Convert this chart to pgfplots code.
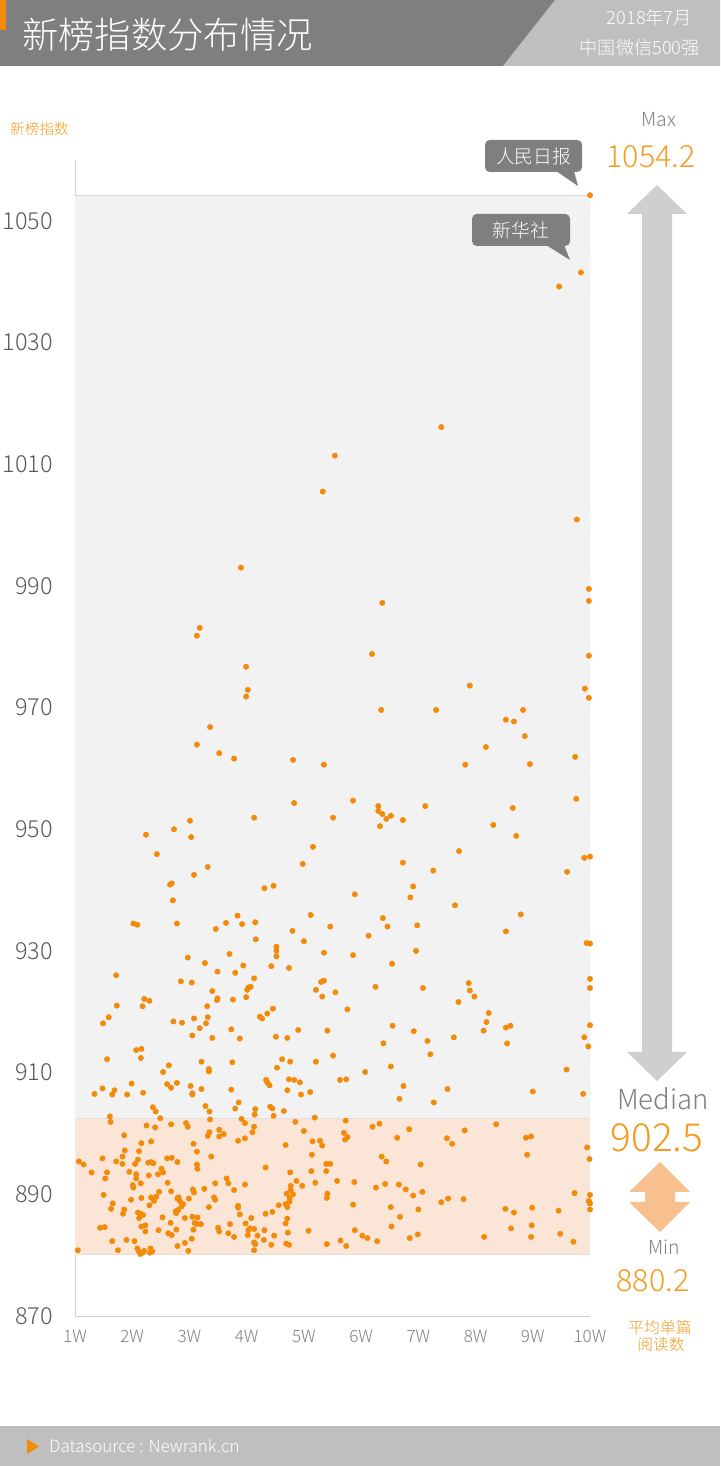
\documentclass[border=0pt]{standalone}
\usepackage{pgfplots}
\usepackage{pgfplotstable}
\pgfplotsset{compat=1.18}
\usepackage{fontspec}
\setmainfont{Noto Sans CJK SC}[UprightFont={* Light}, BoldFont={*}]

\definecolor{hdr}{HTML}{7F7F7F}
\definecolor{hdrlight}{HTML}{BFBFBF}
\definecolor{txtorange}{HTML}{F39C1F}
\definecolor{ptorange}{HTML}{F28A0A}
\definecolor{bandgray}{HTML}{F2F2F2}
\definecolor{bandorange}{HTML}{FBE5D6}
\definecolor{axgray}{HTML}{D0D0D0}
\definecolor{lblgray}{HTML}{7F7F7F}
\definecolor{tickgray}{HTML}{595959}
\definecolor{arrowgray}{HTML}{D0CECE}
\definecolor{arroworange}{HTML}{F8C08F}

\newcommand{\fs}[1]{\fontsize{#1}{#1}\selectfont}

% x = average reads per article (W = 10k), y = Newrank index
\pgfplotstableread{
x y
10.00 1054.2
9.84 1041.5
9.46 1039.2
7.40 1016.1
5.54 1011.4
5.33 1005.5
9.77 1000.9
3.90 993.0
9.98 989.5
9.98 987.5
6.37 987.2
3.18 983.1
3.13 981.8
6.19 978.8
9.98 978.5
3.99 976.7
4.02 972.9
3.99 971.8
7.90 973.6
9.91 973.1
9.98 971.6
3.36 966.8
7.31 969.6
6.35 969.6
8.83 969.6
8.53 968.0
8.67 967.7
8.86 965.3
3.13 963.9
8.18 963.5
3.52 962.5
3.78 961.6
4.81 961.4
8.95 960.7
9.74 961.9
7.82 960.6
5.35 960.6
5.86 954.7
4.83 954.3
9.76 955.0
6.30 953.8
6.30 953.0
6.37 952.5
7.12 953.8
8.65 953.5
6.33 950.5
6.44 951.7
6.52 952.2
6.73 951.5
4.13 951.9
5.51 951.9
3.01 951.4
2.73 950.0
8.31 950.7
8.71 948.9
2.24 949.1
3.03 948.7
5.16 947.1
7.71 946.4
2.43 945.9
10.00 945.5
9.90 945.3
4.98 944.3
3.32 943.8
9.60 943.0
7.26 943.2
6.73 944.5
3.08 942.5
2.69 941.1
2.66 940.9
2.71 938.3
2.02 934.5
2.09 934.3
2.78 934.5
3.46 933.6
3.64 934.6
3.84 935.8
3.92 934.4
2.97 928.9
3.27 928.0
3.70 929.5
3.49 926.6
3.80 926.4
3.94 927.6
1.72 926.0
2.85 925.0
3.04 924.8
3.40 923.4
3.49 922.2
3.48 921.9
3.76 922.0
4.01 923.6
4.03 924.0
3.99 922.4
2.21 922.1
2.30 921.8
2.18 920.9
1.73 921.0
3.31 920.9
1.59 919.1
1.49 918.1
2.72 918.4
2.87 918.2
3.08 918.9
3.32 919.1
3.29 918.1
3.18 917.3
3.05 916.1
3.40 915.7
3.73 917.1
3.88 915.6
2.07 913.7
2.16 913.9
2.15 912.4
1.56 912.2
2.64 911.2
3.21 911.8
3.75 911.7
3.34 910.6
4.31 940.3
4.47 940.7
5.89 939.3
6.91 940.6
6.86 938.8
5.12 935.9
4.15 934.7
4.80 933.3
5.46 934.0
6.38 935.4
6.46 934.0
6.98 934.2
4.16 931.9
5.00 931.6
6.13 932.5
4.52 930.7
4.52 930.0
4.52 929.1
5.35 929.7
5.86 929.3
6.96 930.0
4.43 927.5
4.74 927.2
6.54 927.9
4.13 925.5
4.07 924.1
5.30 924.9
5.35 925.1
5.21 923.6
5.55 923.2
5.32 922.5
6.25 924.1
7.08 923.9
4.46 920.5
4.36 919.7
4.23 919.2
4.27 918.9
5.76 920.4
6.55 917.7
6.92 916.8
4.90 917.0
5.41 916.9
4.51 915.9
4.71 915.7
6.39 914.8
5.51 912.8
4.62 912.2
4.76 911.8
5.21 911.8
4.53 910.8
6.52 911.0
7.64 937.5
8.79 936.0
8.53 933.2
9.94 931.3
10.00 931.2
7.88 924.7
7.90 923.5
7.98 922.5
7.70 921.6
10.00 925.4
10.00 923.9
8.23 919.8
8.19 918.3
8.14 916.9
8.53 917.4
8.61 917.7
8.55 914.8
7.62 915.8
7.16 915.2
7.21 913.0
10.00 917.8
9.90 915.8
9.97 914.3
9.59 910.5
2.54 910.1
3.34 910.2
1.34 906.5
1.48 907.4
1.65 906.4
1.69 907.1
1.91 906.4
1.99 908.2
2.19 906.7
2.61 908.1
2.68 907.5
2.78 908.3
3.02 907.8
3.05 906.6
3.05 906.4
3.21 907.3
3.73 907.2
3.86 905.1
3.80 904.1
3.28 904.5
3.35 903.6
2.36 904.3
2.41 903.6
1.61 902.8
1.62 901.9
2.49 902.5
3.36 902.3
3.91 902.4
2.25 901.3
2.40 901.0
2.68 901.5
2.94 901.7
2.97 901.1
3.97 901.7
3.35 900.2
3.32 899.6
3.52 900.6
3.60 899.9
3.52 899.5
3.85 898.8
3.97 899.2
1.86 899.7
2.16 898.4
2.33 898.7
3.07 898.3
3.13 897.0
3.38 896.2
1.87 897.2
2.12 897.1
1.07 895.4
1.15 894.9
1.48 895.9
1.72 895.4
1.83 896.2
2.10 895.7
2.05 895.0
1.83 895.0
2.28 895.2
2.33 895.3
2.37 895.1
2.61 895.9
2.69 896.0
2.79 895.3
3.13 894.9
3.14 894.2
1.29 893.6
1.56 893.6
1.53 892.6
1.95 893.7
2.07 893.3
2.07 892.6
2.29 893.1
2.45 893.3
2.51 894.2
2.54 893.6
2.15 891.8
2.01 891.5
2.02 891.1
2.62 891.9
3.45 891.8
3.65 892.6
3.68 891.8
3.97 891.6
3.78 890.7
1.50 889.9
1.98 889.1
2.16 889.4
2.33 889.5
2.42 889.6
2.38 888.9
2.47 890.4
2.68 890.5
2.81 889.5
2.83 888.9
2.79 889.3
2.99 889.3
3.06 890.8
3.08 890.3
3.26 890.9
3.43 889.5
3.45 889.1
2.30 888.2
1.66 888.5
1.63 887.6
1.86 887.5
1.84 886.8
2.10 887.0
2.15 886.8
2.19 886.6
2.12 886.1
2.53 886.2
2.76 887.2
2.80 887.4
2.86 888.0
2.89 888.4
2.77 886.9
2.92 886.1
3.05 886.3
3.14 886.2
3.34 887.9
3.85 888.1
3.85 887.8
3.88 886.7
3.09 885.3
3.13 885.1
3.20 885.1
2.67 885.3
1.44 884.5
1.52 884.6
2.16 884.7
2.23 884.9
2.23 883.9
2.46 884.1
2.63 883.6
2.69 883.3
2.77 884.2
3.07 884.2
3.50 884.5
3.52 883.9
3.71 885.1
3.68 883.6
3.78 883.0
3.98 885.2
4.03 884.1
4.02 883.3
3.04 882.7
1.65 882.3
1.90 882.5
2.04 882.3
2.92 882.0
2.79 881.5
1.05 880.8
1.75 880.8
2.09 881.1
2.12 880.6
2.18 880.4
2.21 880.7
2.14 880.2
2.32 881.1
2.35 880.6
2.31 880.4
2.98 880.7
4.34 908.8
4.36 908.4
4.40 907.9
4.74 908.9
4.83 908.8
4.93 908.4
4.71 907.1
4.95 906.4
5.11 906.8
5.63 908.8
5.74 908.9
6.07 910.1
6.74 907.8
6.67 905.7
4.15 904.0
4.14 903.1
4.41 904.4
4.45 904.1
4.47 902.9
4.65 903.7
5.19 902.6
5.73 902.1
4.85 901.9
4.13 901.1
4.10 900.2
5.00 900.4
6.20 901.1
6.32 901.6
6.84 900.7
5.70 900.1
5.76 899.4
5.72 899.0
5.15 898.7
5.28 898.8
5.32 898.0
4.68 898.1
6.63 899.3
5.14 896.5
6.36 896.2
6.44 895.4
7.04 894.9
4.33 894.4
5.39 895.0
5.46 895.0
5.39 893.8
5.13 893.8
4.76 893.6
4.87 892.2
5.20 891.9
4.97 891.4
5.58 892.2
5.88 892.0
6.26 891.1
6.42 891.7
6.66 891.6
6.78 890.8
6.91 889.8
7.07 890.4
4.77 891.4
4.81 890.0
4.75 889.4
4.70 890.1
4.77 890.7
4.75 888.8
4.68 888.4
4.71 887.9
4.56 888.2
5.41 890.1
5.40 889.4
5.86 888.3
6.52 887.9
6.68 886.3
7.00 887.5
4.45 887.1
4.33 886.8
4.71 886.0
4.68 885.2
4.08 886.1
4.06 884.4
4.13 884.3
4.31 884.1
4.19 883.2
4.48 883.2
4.72 883.7
5.08 884.0
5.89 884.1
6.02 883.2
6.11 882.8
6.28 882.3
6.53 884.7
6.85 882.8
6.99 883.4
4.30 882.5
4.13 882.1
4.15 881.8
4.43 881.7
4.69 881.9
4.74 881.7
5.40 881.8
5.64 882.4
5.74 881.5
4.13 880.8
7.51 907.3
7.27 905.1
9.00 906.9
9.88 906.5
8.36 901.5
7.81 900.5
7.50 899.2
7.59 898.3
8.88 899.3
8.97 899.5
8.90 896.5
9.95 897.7
9.99 895.8
9.73 890.2
10.00 889.9
9.98 888.9
10.00 888.5
10.00 887.5
7.40 888.7
7.52 889.3
7.79 889.2
8.52 887.6
8.67 887.0
8.99 887.8
9.45 887.3
8.62 884.4
8.98 884.9
8.15 883.0
8.97 883.0
9.48 883.5
9.71 882.2
}\pts

\begin{document}
\begin{tikzpicture}
\begin{scope}[x=0.03cm,y=0.03cm]
% page
\fill[white] (0,0) rectangle (720,1466);
% header
\fill[hdr] (0,1400) rectangle (720,1466);
\fill[hdrlight] (503,1400) -- (555,1466) -- (720,1466) -- (720,1400) -- cycle;
\fill[ptorange] (0,1436) rectangle (6,1466);
\node[anchor=west, text=white, inner sep=0pt] at (22,1431) {\fs{31pt}新榜指数分布情况};
\node[anchor=east, text=white, inner sep=0pt] at (692,1448) {\fs{15.5pt}2018年7月};
\node[anchor=east, text=white, inner sep=0pt] at (700,1418) {\fs{15.5pt}中国微信500强};
\node[anchor=west, text=txtorange, inner sep=0pt] at (10,1337) {\fs{12.5pt}新榜指数};
\end{scope}

\begin{axis}[
    at={(2.25cm,4.5cm)}, anchor=south west,
    scale only axis,
    width=15.45cm, height=34.68cm,
    xmin=1, xmax=10, ymin=870, ymax=1060,
    axis lines=left,
    axis line style={-, draw=axgray, line width=0.8pt},
    xtick={1,2,...,10},
    xticklabels={1W,2W,3W,4W,5W,6W,7W,8W,9W,10W},
    ytick={870,890,...,1050},
    major tick length=0pt,
    /pgf/number format/assume math mode=true,
    /pgf/number format/1000 sep={},
    yticklabel style={font=\fs{20pt}, text=tickgray, anchor=east, inner sep=0pt, xshift=-0.66cm},
    xticklabel style={font=\fs{14.5pt}, text=lblgray, anchor=north, inner sep=0pt, yshift=-0.42cm},
    clip=false,
]
% bands: max, median, min
\addplot[draw=none, fill=bandgray] coordinates {(1,880.2) (10,880.2) (10,1054.2) (1,1054.2)} -- cycle;
\addplot[draw=none, fill=bandorange] coordinates {(1,880.2) (10,880.2) (10,902.5) (1,902.5)} -- cycle;
\addplot[draw=black!15, line width=0.6pt] coordinates {(1,1054.2) (10,1054.2)};
\addplot[draw=black!12, line width=0.6pt] coordinates {(1,902.5) (10,902.5)};
\addplot[draw=black!12, line width=0.6pt] coordinates {(1,880.2) (10,880.2)};
\addplot[only marks, mark=*, mark size=2.3pt, color=ptorange, mark options={fill=ptorange, draw=ptorange}] table[x=x, y=y] {\pts};
\end{axis}

\begin{scope}[x=0.03cm,y=0.03cm]
% callouts
\fill[hdr, rounded corners=4pt] (485,1294) rectangle (582,1326);
\fill[hdr] (556,1295) -- (574,1295) -- (578,1280) -- cycle;
\node[text=white] at (533.5,1310) {\fs{16pt}人民日报};
\fill[hdr, rounded corners=4pt] (472,1220) rectangle (570,1252);
\fill[hdr] (546,1221) -- (564,1221) -- (570,1206) -- cycle;
\node[text=white] at (521,1236) {\fs{16pt}新华社};

% right panel
\node[text=lblgray] at (659,1346) {\fs{16.5pt}Max};
\node[text=txtorange] at (651,1309) {\fs{26pt}1054.2};
\fill[arrowgray] (657,1281) -- (687,1252) -- (672,1252) -- (672,414) -- (687,414)
    -- (657,385) -- (627,414) -- (642,414) -- (642,1252) -- (627,1252) -- cycle;
\node[text=lblgray] at (663,367) {\fs{23.5pt}Median};
\node[text=txtorange] at (657,328) {\fs{33pt}902.5};
\fill[arroworange] (660,304) -- (690,274) -- (675,274) -- (675,264) -- (690,264)
    -- (660,234) -- (629,264) -- (645,264) -- (645,274) -- (629,274) -- cycle;
\node[text=lblgray] at (664,219) {\fs{16.5pt}Min};
\node[text=txtorange] at (653,185) {\fs{26pt}880.2};
\node[text=txtorange] at (660,139) {\fs{13.5pt}平均单篇};
\node[text=txtorange] at (661,121) {\fs{13.5pt}阅读数};

% footer
\fill[hdrlight] (0,0) rectangle (720,40);
\fill[ptorange] (27,27) -- (39,19.5) -- (27,12) -- cycle;
\node[anchor=west, text=white, inner sep=0pt] at (49,20) {\fs{14.5pt}Datasource : Newrank.cn};
\end{scope}
\end{tikzpicture}
\end{document}
